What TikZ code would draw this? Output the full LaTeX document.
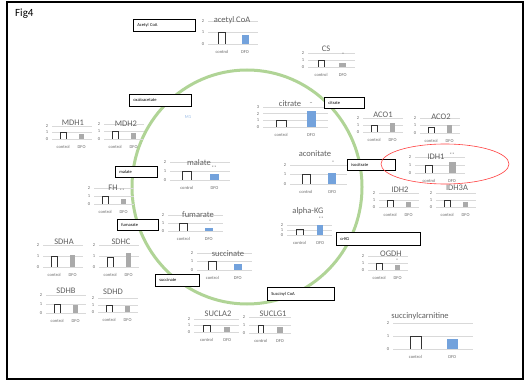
\documentclass[tikz,border=0pt]{standalone}
\usepackage{fontspec}
\setmainfont{Carlito}
\definecolor{ringgreen}{RGB}{176,212,150}
\definecolor{xlblue}{RGB}{115,162,220}
\definecolor{xlgray}{RGB}{170,170,170}
\definecolor{ttlgray}{RGB}{95,95,95}
\newcommand{\mchart}[8]{%
  \pgfmathsetmacro\mcA{#2+0.28*#4}%
  \pgfmathsetmacro\mcB{#2+0.74*#4}%
  \pgfmathsetmacro\mcW{0.07*#4}%
  \pgfmathsetmacro\mcR{#2+#4}%
  \foreach \k in {0,1,2}{%
    \draw[gline] (#2,{#3-\k*#5}) -- (\mcR,{#3-\k*#5});
    \node[tk] (#1t\k) at ({#2-5},{#3-\k*#5}) {\k};
  }%
  \draw[ctrlbar] ({\mcA-\mcW},#3) -- ({\mcA-\mcW},{#3-#6*#5}) -- ({\mcA+\mcW},{#3-#6*#5}) -- ({\mcA+\mcW},#3);
  \fill[#8] ({\mcB-\mcW},#3) rectangle ({\mcB+\mcW},{#3-#7*#5});
  \node[xl] (#1c) at (\mcA,{#3+8}) {control};
  \node[xl] (#1d) at (\mcB,{#3+8}) {DFO};
}
\tikzset{
  gline/.style={draw=black!15, line width=0.4pt},
  tk/.style={font=\fontsize{4.5}{5}\selectfont, text=black!60, inner sep=0pt},
  xl/.style={font=\fontsize{4.5}{5}\selectfont, text=black!60, inner sep=0pt},
  ttl/.style={font=\fontsize{8.5}{9}\selectfont, text=ttlgray, inner sep=0pt},
  star/.style={font=\fontsize{5}{6}\selectfont, text=black!60, inner sep=0pt},
  ctrlbar/.style={draw=black!80, line width=0.45pt},
  lbox/.style={draw=black, fill=white, line width=0.7pt, inner xsep=4pt, inner ysep=0pt,
    anchor=north west, align=left, font=\fontsize{4.5}{5}\selectfont},
  ring/.style={draw=ringgreen, line width=3pt},
}
\begin{document}
\begin{tikzpicture}[x=1pt,y=-1pt]
\useasboundingbox (0,0) rectangle (525,382);
\draw[line width=1.6pt] (7,2) rectangle (523,379);
\node[anchor=north west, inner sep=0pt, font=\fontsize{11}{12}\selectfont] (fig) at (15,9) {Fig4};
% TCA ring
\draw[ring] (247,187) ellipse [x radius=115pt, y radius=117pt];
\node[font=\fontsize{4.5}{5}\selectfont, text=xlblue!80, inner sep=0pt] (m1) at (188,117) {M1};
% charts: name, x0, y0(baseline), width, unit, ctrl, dfo, colour
\mchart{acc}{208}{44}{50}{11.5}{1}{0.8}{xlblue}
\node[ttl] (accT) at (232,20) {acetyl CoA};
\mchart{cs}{308}{67}{47}{7}{1}{0.6}{xlgray}
\node[ttl] (csT) at (326,49) {CS};
\node[star] (csS) at (343,55) {*};
\mchart{cit}{263}{127}{65}{6.7}{1}{2.4}{xlblue}
\draw[gline] (263,107) -- (328,107);
\node[tk] (citt3) at (258,107) {3};
\node[ttl] (citT) at (290,104) {citrate};
\node[star] (citS) at (311,104) {\textasciitilde};
\mchart{aco1}{363}{132}{40}{7}{1}{1.3}{xlgray}
\node[ttl] (aco1T) at (383,115) {ACO1};
\mchart{aco2}{420}{133}{40}{7.5}{0.8}{1}{xlgray}
\node[ttl] (aco2T) at (441,117) {ACO2};
\mchart{idh1}{415}{173}{50}{8}{1}{1.4}{xlgray}
\node[ttl] (idh1T) at (436,157) {IDH1};
\node[star] (idh1S) at (452,155) {**};
\mchart{idh2}{379}{207}{40}{7}{1}{0.7}{xlgray}
\node[ttl] (idh2T) at (400,190) {IDH2};
\mchart{idh3}{436}{207}{40}{7}{1}{0.7}{xlgray}
\node[ttl] (idh3T) at (457,188) {IDH3A};
\mchart{acon}{290}{184}{57}{9.5}{1}{1.2}{xlblue}
\node[ttl] (aconT) at (315,154) {aconitate};
\node[star] (aconS) at (333,163) {*};
\mchart{akg}{287}{235}{45}{5}{1.2}{2}{xlblue}
\node[ttl] (akgT) at (308,211) {alpha-KG};
\node[star] (akgS) at (321,219) {**};
\mchart{ogdh}{368}{270}{40}{7}{1}{0.7}{xlgray}
\node[ttl] (ogdhT) at (391,254) {OGDH};
\node[star] (ogdhS) at (397,261) {*};
\mchart{scar}{393}{349}{80}{13}{1}{0.8}{xlblue}
\node[ttl] (scarT) at (420,316) {succinylcarnitine};
\mchart{sucla}{194}{332}{45}{6.5}{1}{0.8}{xlgray}
\node[ttl] (suclaT) at (218,314) {SUCLA2};
\mchart{suclg}{249}{333}{42}{8}{1}{0.7}{xlgray}
\node[ttl] (suclgT) at (273,314) {SUCLG1};
\mchart{succ}{197}{270}{55}{8.5}{1}{0.75}{xlblue}
\node[ttl] (succT) at (228,254) {succinate};
\mchart{fum}{168}{231}{55}{8}{1}{0.4}{xlblue}
\node[ttl] (fumT) at (198,215) {fumarate};
\node[star] (fumS) at (210,222) {*};
\mchart{mal}{170}{180}{60}{9}{1}{0.7}{xlblue}
\node[ttl] (malT) at (199,163) {malate};
\node[star] (malS) at (214,168) {**};
\mchart{fh}{94}{204}{40}{8}{1}{0.6}{xlgray}
\node[ttl] (fhT) at (113,188) {FH};
\node[star] (fhS) at (122,191) {**};
\mchart{mdh1}{52}{139}{40}{6.5}{1}{0.8}{xlgray}
\node[ttl] (mdh1T) at (73,123) {MDH1};
\mchart{mdh2}{104}{139}{40}{7.5}{1}{0.8}{xlgray}
\node[ttl] (mdh2T) at (126,124) {MDH2};
\mchart{sdha}{43}{267}{40}{11}{1}{1.1}{xlgray}
\node[ttl] (sdhaT) at (64,242) {SDHA};
\mchart{sdhc}{99}{267}{40}{11}{0.9}{1.3}{xlgray}
\node[ttl] (sdhcT) at (121,242) {SDHC};
\mchart{sdhb}{46}{313}{40}{9}{1}{0.9}{xlgray}
\node[ttl] (sdhbT) at (66,291) {SDHB};
\mchart{sdhd}{98}{312}{40}{7}{1}{0.8}{xlgray}
\node[ttl] (sdhdT) at (113,292) {SDHD};
% metabolite label boxes
\node[lbox, text width=54pt, minimum height=12pt] (bacc) at (133,19) {Acetyl CoA};
\node[lbox, text width=54pt, minimum height=12pt] (boaa) at (129,94) {oxaloacetate};
\node[lbox, text width=32pt, minimum height=11pt] (bcit) at (324,97) {citrate};
\node[lbox, text width=34pt, minimum height=11pt] (bmal) at (115,166) {malate};
\node[lbox, text width=33pt, minimum height=11pt] (bfum) at (117,219) {fumarate};
\node[lbox, text width=36pt, minimum height=12pt] (bsuc) at (155,274) {succinate};
\node[lbox, text width=59pt, minimum height=13pt] (bscoa) at (267,287) {Succinyl CoA};
\node[lbox, text width=76pt, minimum height=13pt] (bakg) at (336,232) {α-KG};
\node[lbox, text width=40pt, minimum height=11pt] (biso) at (347,159) {isocitrate};
% highlight
\draw[red!75, line width=0.6pt] (445,164) ellipse [x radius=64pt, y radius=20pt];
\end{tikzpicture}
\end{document}
